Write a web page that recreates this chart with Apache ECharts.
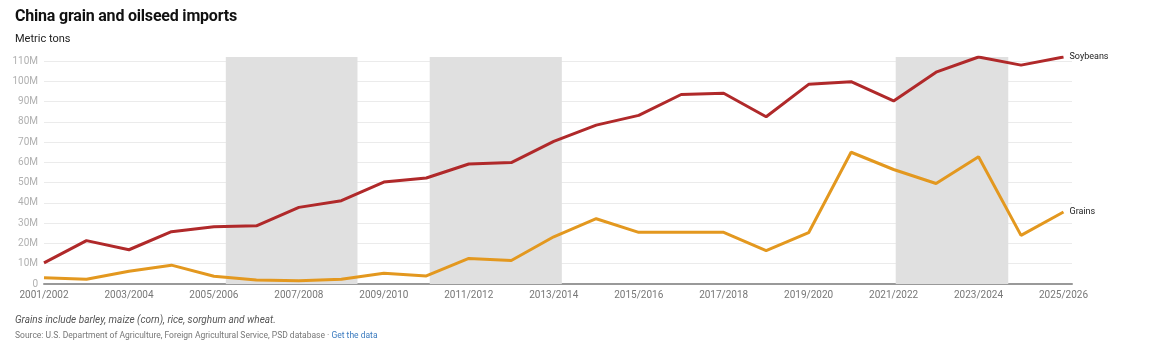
<!DOCTYPE html>
<html>
<head>
<meta charset="utf-8">
<script src="https://cdn.jsdelivr.net/npm/echarts@6/dist/echarts.min.js"></script>
<style>
html,body{margin:0;padding:0;background:#fff;}
#wrap{position:relative;width:1150px;height:351px;font-family:Roboto,"Noto Sans",sans-serif;}
#title{position:absolute;left:15px;top:6px;font-size:16px;font-weight:bold;color:#111;letter-spacing:-0.2px;}
#sub{position:absolute;left:15px;top:32px;font-size:11px;color:#222;}
#chart{position:absolute;left:0;top:0;width:1150px;height:351px;}
#note{position:absolute;left:15px;top:314px;font-size:10px;font-style:italic;color:#555;}
#src{position:absolute;left:15px;top:330px;font-size:8.5px;color:#777;}
#src a{color:#3b7bbf;text-decoration:none;}
</style>
</head>
<body>
<div id="wrap">
<div id="chart"></div>
<div id="title">China grain and oilseed imports</div>
<div id="sub">Metric tons</div>
<div id="note">Grains include barley, maize (corn), rice, sorghum and wheat.</div>
<div id="src">Source: U.S. Department of Agriculture, Foreign Agricultural Service, PSD database · <a>Get the data</a></div>
</div>
<script>
const categories = ['2001/2002','2002/2003','2003/2004','2004/2005','2005/2006','2006/2007','2007/2008','2008/2009','2009/2010','2010/2011','2011/2012','2012/2013','2013/2014','2014/2015','2015/2016','2016/2017','2017/2018','2018/2019','2019/2020','2020/2021','2021/2022','2022/2023','2023/2024','2024/2025','2025/2026'];
// millions of metric tons
const soybeans = [10.4,21.4,16.9,25.8,28.3,28.7,37.8,41.1,50.3,52.3,59.2,59.9,70.4,78.4,83.2,93.5,94.1,82.5,98.5,99.8,90.3,104.5,112,108,112];
const grains = [3.1,2.3,6.3,9.3,3.8,2.0,1.65,2.3,5.3,4.0,12.6,11.6,23.3,32.2,25.5,25.5,25.5,16.5,25.3,65,56.5,49.6,62.8,24,35.5];
// shaded periods, in category-index units
const bands = [[4.28,7.38],[9.08,12.19],[20.05,22.7]];

const chart = echarts.init(document.getElementById('chart'));
const toPts = arr => arr.map((v,i)=>[i,v]);
chart.setOption({
  animation:false,
  grid:{left:44,right:78,top:57,bottom:67},
  xAxis:{
    type:'value',min:0,max:24.2,interval:2,
    axisLine:{show:true,lineStyle:{color:'#999',width:2}},
    axisTick:{show:false},
    splitLine:{show:false},
    axisLabel:{color:'#777',fontSize:10,fontFamily:'Roboto',margin:6,showMaxLabel:false,
      formatter:v=>categories[v]||''}
  },
  yAxis:{
    type:'value',min:0,max:112,interval:10,
    axisLine:{show:false},axisTick:{show:false},
    splitLine:{lineStyle:{color:'#ebebeb',width:1},showMinLine:false,showMaxLine:false},
    axisLabel:{color:'#b0b0b0',fontSize:10,fontFamily:'Roboto',margin:6,showMaxLabel:false,
      formatter:v=>v===0?'0':v+'M'}
  },
  series:[
    {
      type:'line',name:'Soybeans',data:toPts(soybeans),symbol:'none',
      lineStyle:{color:'#b0292a',width:3},
      endLabel:{show:true,formatter:'Soybeans',color:'#222',fontSize:9,fontFamily:'Roboto',distance:6},
      markArea:{silent:true,itemStyle:{color:'#e0e0e0'},
        data:bands.map(b=>[{xAxis:b[0]},{xAxis:b[1]}])}
    },
    {
      type:'line',name:'Grains',data:toPts(grains),symbol:'none',
      lineStyle:{color:'#e3981f',width:3},
      endLabel:{show:true,formatter:'Grains',color:'#222',fontSize:9,fontFamily:'Roboto',distance:6}
    }
  ]
});
</script>
</body>
</html>
